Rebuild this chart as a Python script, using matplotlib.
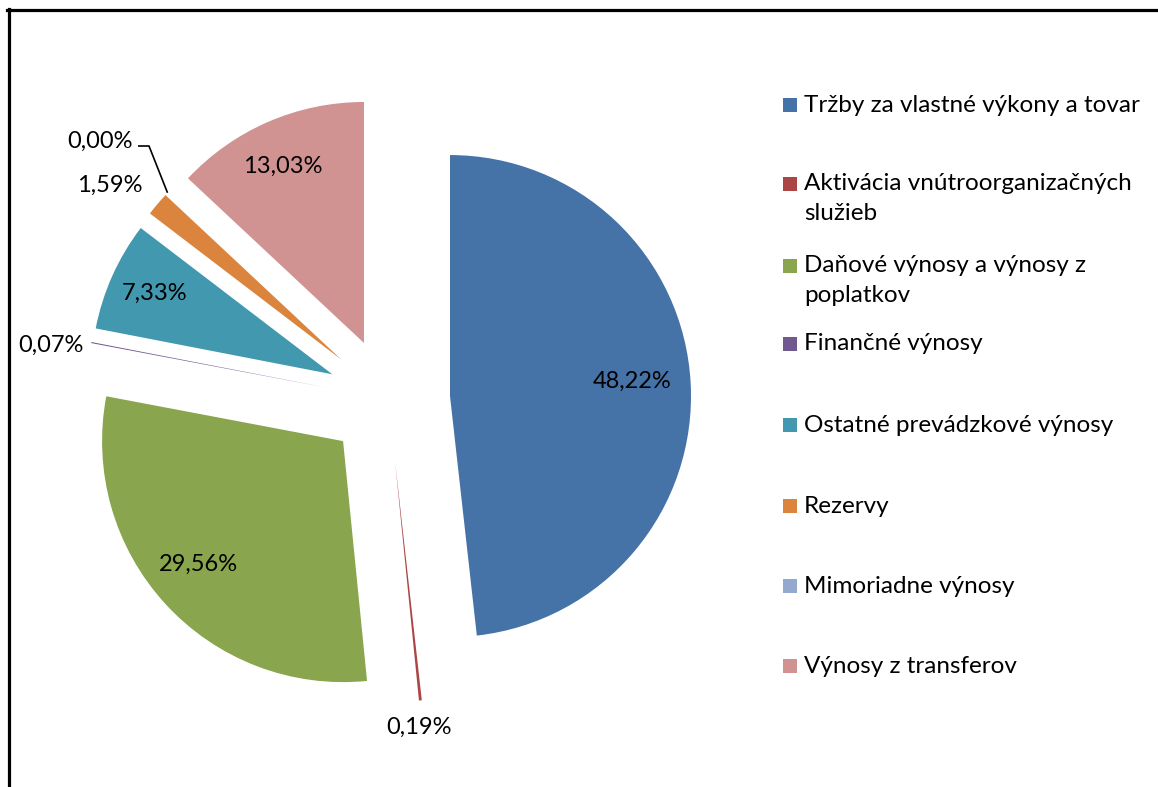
import numpy as np
import matplotlib
matplotlib.use("Agg")
import matplotlib.pyplot as plt
from matplotlib.patches import Rectangle
from matplotlib.lines import Line2D
import textwrap

# ---------------- data ----------------
categories = [
    "Tržby za vlastné výkony a tovar",
    "Aktivácia vnútroorganizačných služieb",
    "Daňové výnosy a výnosy z poplatkov",
    "Finančné výnosy",
    "Ostatné prevádzkové výnosy",
    "Rezervy",
    "Mimoriadne výnosy",
    "Výnosy z transferov",
]
shares = [48.22, 0.19, 29.56, 0.07, 7.33, 1.59, 0.00, 13.03]
pct_labels = ["48,22%", "0,19%", "29,56%", "0,07%", "7,33%", "1,59%", "0,00%", "13,03%"]
colors = ["#4572A7", "#AA4643", "#89A54E", "#71588F",
          "#4198AF", "#DB843D", "#93A9CF", "#D19392"]

# ---------------- layout (pixels) ----------------
W, H = 1158, 787
FONT = ["Lato", "DejaVu Sans"]
FS_PCT = 17
FS_LEG = 17.5
pie_center_px = (388.5, 399.5)
pie_radius = 241
explode_px = 61.6
pct_dist = 0.78
pct_shift_px = (-6, -6)          # Excel-like nudge of inside labels
# outside labels for tiny slices: index -> (x, y) pixel centre of text
outside_pos = {1: (419, 725), 3: (51, 343), 5: (110, 183), 6: (100, 139)}
leader_elbow = {6: [(149, 146), (138, 146)]}
legend_y = [105, 183.5, 265.5, 343.5, 425, 506, 586, 666]
legend_sq_x = 783
legend_sq = 14
legend_text_x = 804
line_gap = 30

plt.rcParams['font.family'] = FONT

fig = plt.figure(figsize=(W / 100, H / 100), dpi=100)
ax = fig.add_axes([0, 0, 1, 1])

def py(y):
    return H - y

wedges, _ = ax.pie(
    shares, colors=colors, startangle=90, counterclock=False,
    radius=pie_radius, center=(pie_center_px[0], py(pie_center_px[1])),
    explode=[explode_px] * len(shares),
    wedgeprops=dict(linewidth=0, antialiased=True),
)
ax.set_xlim(0, W)
ax.set_ylim(0, H)
ax.set_aspect('equal')
ax.axis('off')

for i, w in enumerate(wedges):
    thm = np.deg2rad((w.theta1 + w.theta2) / 2)
    cx, cy = w.center
    if i in outside_pos:
        tx, ty = outside_pos[i]
        ax.text(tx, py(ty), pct_labels[i], ha='center', va='center_baseline',
                fontsize=FS_PCT, color='black')
        if i in leader_elbow:
            ox = cx + pie_radius * np.cos(thm)
            oy = cy + pie_radius * np.sin(thm)
            pts = [(ox, oy)] + [(x, py(y)) for x, y in leader_elbow[i]]
            xs, ys = zip(*pts)
            ax.plot(xs, ys, color='black', lw=1.2, solid_capstyle='butt')
    else:
        tx = cx + pct_dist * pie_radius * np.cos(thm) + pct_shift_px[0]
        ty = cy + pct_dist * pie_radius * np.sin(thm) - pct_shift_px[1]
        ax.text(tx, ty, pct_labels[i], ha='center', va='center_baseline',
                fontsize=FS_PCT, color='black')

# legend (manual, Excel-like spacing)
for i, (name, col) in enumerate(zip(categories, colors)):
    yc = legend_y[i]
    ax.add_patch(Rectangle((legend_sq_x, py(yc) - legend_sq / 2), legend_sq, legend_sq,
                           facecolor=col, edgecolor='none'))
    for k, line in enumerate(textwrap.wrap(name, width=31)):
        ax.text(legend_text_x, py(yc + 7 + k * line_gap), line, ha='left',
                va='baseline', fontsize=FS_LEG, color='black')

# chart frame (only top and left edges visible)
fig.add_artist(Line2D([8.5 / W, 8.5 / W], [0, py(8.5) / H], color='black', lw=2.3,
                      transform=fig.transFigure))
fig.add_artist(Line2D([7 / W, 1], [py(10) / H, py(10) / H], color='black', lw=2.3,
                      transform=fig.transFigure))

fig.savefig("out.png", dpi=100, facecolor='white')
